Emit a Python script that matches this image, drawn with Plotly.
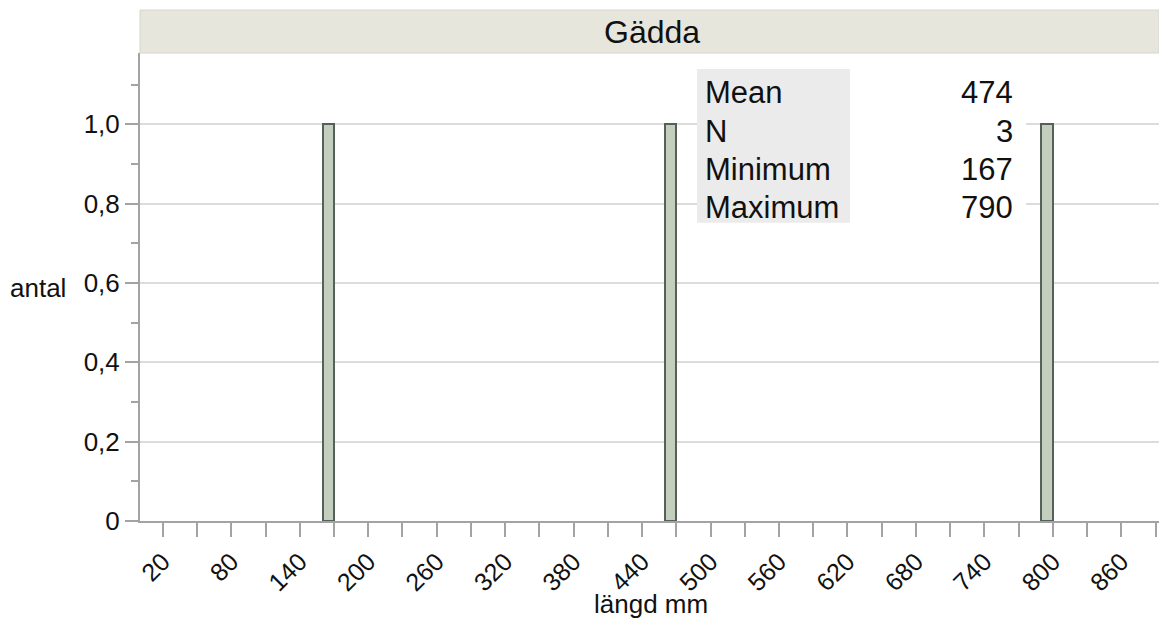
import plotly.graph_objects as go

# Data
lengths_mm = [167, 465, 790]
bin_size = 10
x_tick_vals = list(range(20, 891, 30))
x_tick_labels = [str(v) if (v - 20) % 60 == 0 else "" for v in x_tick_vals]
y_tick_vals = [0, 0.2, 0.4, 0.6, 0.8, 1.0]
y_tick_labels = ["0", "0,2", "0,4", "0,6", "0,8", "1,0"]
title = "Gädda"
stat_names = ["Mean", "N", "Minimum", "Maximum"]
stat_values = [
    round(sum(lengths_mm) / len(lengths_mm)),
    len(lengths_mm),
    min(lengths_mm),
    max(lengths_mm),
]

W, H = 1159, 627
P_LEFT, P_RIGHT, P_TOP, P_BOTTOM = 140, 1159, 53, 521.5
ML, MR = P_LEFT, W - P_RIGHT
MT, MB = P_TOP, H - P_BOTTOM
PW, PH = P_RIGHT - P_LEFT, P_BOTTOM - P_TOP

FONT = "Liberation Sans, Arial, Helvetica, sans-serif"

fig = go.Figure()
fig.add_trace(go.Histogram(
    x=lengths_mm,
    xbins=dict(start=0, end=900, size=bin_size),
    marker=dict(color="#c3cebd", line=dict(color="#56605a", width=2)),
    hoverinfo="skip",
))

def px_x(p):
    return (p - P_LEFT) / PW

def px_y(p):
    return (P_BOTTOM - p) / PH

shapes = []
shapes.append(dict(type="rect", xref="paper", yref="paper",
                   x0=0, x1=1, y0=px_y(53), y1=px_y(10),
                   fillcolor="#e6e6dd", line=dict(color="#d6d6ca", width=1), layer="above"))
shapes.append(dict(type="rect", xref="paper", yref="paper",
                   x0=px_x(697), x1=px_x(850), y0=px_y(223), y1=px_y(69),
                   fillcolor="#ebebeb", line=dict(width=0), layer="above"))
shapes.append(dict(type="rect", xref="paper", yref="paper",
                   x0=px_x(850), x1=px_x(1026), y0=px_y(223), y1=px_y(69),
                   fillcolor="#ffffff", line=dict(width=0), layer="above"))

annotations = []
annotations.append(dict(text=title, xref="paper", yref="paper",
                        x=px_x(652), y=px_y(32), showarrow=False,
                        font=dict(size=32, color="#111", family=FONT),
                        xanchor="center", yanchor="middle"))
row_y = [93, 131.5, 169.5, 207.5]
for name, val, ry in zip(stat_names, stat_values, row_y):
    annotations.append(dict(text=name, xref="paper", yref="paper",
                            x=px_x(703), y=px_y(ry), showarrow=False,
                            font=dict(size=31, color="#111", family=FONT),
                            xanchor="left", yanchor="middle"))
    annotations.append(dict(text=str(val), xref="paper", yref="paper",
                            x=px_x(1015), y=px_y(ry), showarrow=False,
                            font=dict(size=31, color="#111", family=FONT),
                            xanchor="right", yanchor="middle"))
annotations.append(dict(text="antal", xref="paper", yref="paper",
                        x=px_x(8), y=px_y(288), showarrow=False,
                        font=dict(size=26, color="#111", family=FONT),
                        xanchor="left", yanchor="middle"))
annotations.append(dict(text="längd mm", xref="paper", yref="paper",
                        x=px_x(651), y=px_y(605), showarrow=False,
                        font=dict(size=26, color="#111", family=FONT),
                        xanchor="center", yanchor="middle"))

fig.update_layout(
    width=W, height=H,
    margin=dict(l=ML, r=MR, t=MT, b=MB, pad=0),
    paper_bgcolor="white", plot_bgcolor="white",
    showlegend=False,
    bargap=0,
    font=dict(family=FONT, size=25, color="#111"),
    shapes=shapes,
    annotations=annotations,
    xaxis=dict(
        range=[0, 893],
        tickmode="array", tickvals=x_tick_vals, ticktext=x_tick_labels,
        tickangle=-45,
        ticks="outside", ticklen=14, tickwidth=2, tickcolor="#a3a3a3",
        showline=True, linecolor="#a3a3a3", linewidth=2,
        showgrid=False, zeroline=False,
        tickfont=dict(size=25, family=FONT, color="#111"),
    ),
    yaxis=dict(
        range=[0, 1.18],
        tickmode="array", tickvals=y_tick_vals, ticktext=y_tick_labels,
        ticks="outside", ticklen=13, tickwidth=2, tickcolor="#a3a3a3",
        showline=True, linecolor="#a3a3a3", linewidth=2,
        showgrid=True, gridcolor="#dcdcdc", gridwidth=1.5,
        zeroline=False,
        minor=dict(tickvals=[0.1, 0.3, 0.5, 0.7, 0.9, 1.1], ticks="outside",
                   ticklen=7, tickwidth=2, tickcolor="#a3a3a3", showgrid=False),
        tickfont=dict(size=26, family=FONT, color="#111"),
    ),
)

fig.write_html(
    "out.html",
    config={"displayModeBar": False},
    post_script="document.body.style.margin='0';document.body.style.overflow='hidden';",
)
